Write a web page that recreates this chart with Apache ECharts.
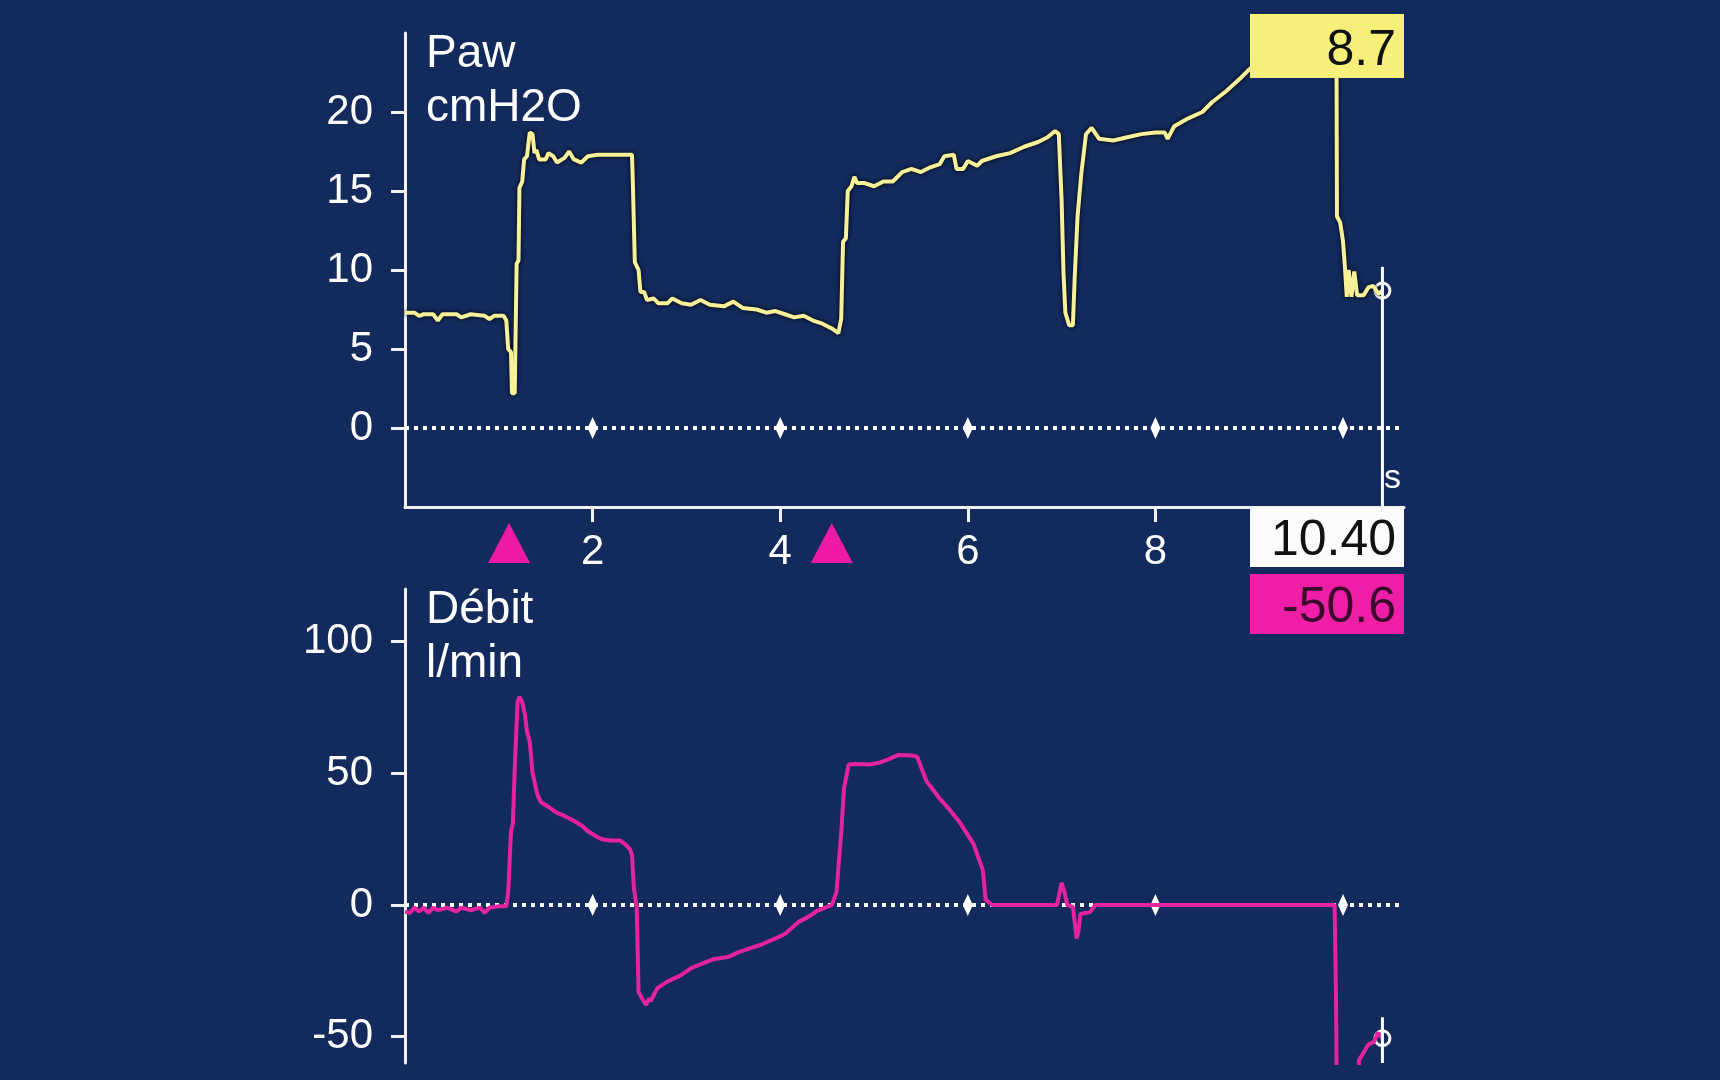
<!DOCTYPE html>
<html>
<head>
<meta charset="utf-8">
<title>Paw / Débit</title>
<script src="https://cdn.jsdelivr.net/npm/echarts@6/dist/echarts.min.js"></script>
<style>
    html, body { margin: 0; padding: 0; background: #122a5c; }
    #main { width: 1720px; height: 1080px; }
</style>
</head>
<body>
<div id="main"></div>
<script>
// Paw trace (s, cmH2O)
let pawT = [0.00, 0.10, 0.15, 0.20, 0.30, 0.35, 0.40, 0.55, 0.60, 0.70, 0.85, 0.90, 0.95, 1.05, 1.08, 1.10, 1.13, 1.14, 1.17,
    1.19, 1.21, 1.22, 1.25, 1.27, 1.30, 1.33, 1.36, 1.38, 1.40, 1.43, 1.50, 1.53, 1.58, 1.62, 1.70, 1.75, 1.80, 1.88, 1.95, 2.05,
    2.42, 2.43, 2.45, 2.49, 2.51, 2.55, 2.58, 2.65, 2.70, 2.80, 2.85, 2.95, 3.05, 3.15, 3.25, 3.40, 3.50, 3.60, 3.75, 3.85, 3.95,
    4.05, 4.15, 4.25, 4.35, 4.45, 4.55, 4.62, 4.65, 4.67, 4.70, 4.72, 4.76, 4.79, 4.82, 4.90, 5.00, 5.10, 5.20, 5.30, 5.40, 5.50,
    5.60, 5.70, 5.75, 5.85, 5.88, 5.95, 6.00, 6.10, 6.15, 6.30, 6.45, 6.60, 6.75, 6.85, 6.93, 6.97, 7.00, 7.02, 7.04, 7.08, 7.12,
    7.14, 7.17, 7.21, 7.26, 7.32, 7.40, 7.55, 7.70, 7.85, 8.00, 8.10, 8.13, 8.20, 8.35, 8.50, 8.60, 8.75, 8.90, 9.00, 9.20, 9.45,
    9.70, 9.93, 9.935, 9.97, 10.00, 10.02, 10.04, 10.06, 10.09, 10.12, 10.15, 10.22, 10.27, 10.32, 10.38, 10.42]
let pawV = [7.3, 7.3, 7.1, 7.2, 7.2, 6.8, 7.2, 7.2, 7.0, 7.2, 7.1, 6.9, 7.1, 7.1, 6.8, 5.0, 4.8, 2.2, 2.2,
    10.4, 10.6, 15.2, 15.6, 17.0, 17.2, 18.7, 18.6, 17.4, 17.6, 17.0, 17.0, 17.4, 17.2, 16.8, 17.1, 17.5, 17.0, 16.8, 17.2, 17.3,
    17.3, 15.3, 10.5, 10.0, 8.6, 8.6, 8.1, 8.2, 7.9, 7.9, 8.2, 7.9, 7.8, 8.1, 7.8, 7.7, 8.0, 7.6, 7.5, 7.3, 7.4,
    7.2, 7.0, 7.1, 6.8, 6.6, 6.3, 6.0, 6.9, 11.8, 12.0, 15.0, 15.3, 15.9, 15.5, 15.5, 15.3, 15.6, 15.6, 16.2, 16.4, 16.2,
    16.5, 16.7, 17.2, 17.3, 16.4, 16.4, 16.9, 16.6, 16.9, 17.2, 17.4, 17.8, 18.1, 18.4, 18.8, 18.6, 14.4, 9.8, 7.3, 6.5, 6.5,
    9.6, 13.4, 16.1, 18.6, 19.0, 18.3, 18.2, 18.4, 18.6, 18.7, 18.7, 18.3, 19.1, 19.6, 20.0, 20.6, 21.3, 22.1, 22.7, 23.6, 24.3,
    24.8, 24.6, 13.4, 13.0, 11.8, 10.2, 8.3, 10.0, 8.3, 9.9, 8.4, 8.4, 8.9, 9.0, 8.5, 8.7]

// Débit trace (s, l/min)
let flowT = [0.00, 0.05, 0.10, 0.15, 0.20, 0.25, 0.30, 0.35, 0.45, 0.55, 0.60, 0.70, 0.80, 0.85, 0.90, 1.00, 1.08,
    1.10, 1.11, 1.13, 1.15, 1.17, 1.20, 1.22, 1.25, 1.28, 1.30, 1.33, 1.36, 1.38, 1.41, 1.45, 1.54, 1.62, 1.69, 1.80, 1.89,
    1.95, 2.04, 2.10, 2.19, 2.29, 2.35, 2.40, 2.42, 2.44, 2.47, 2.49, 2.52, 2.57, 2.60, 2.62, 2.69, 2.80, 2.94, 3.05, 3.20,
    3.30, 3.45, 3.55, 3.70, 3.80, 3.95, 4.05, 4.20, 4.30, 4.40, 4.55, 4.60, 4.65, 4.68, 4.73, 4.80, 4.96, 5.05, 5.16, 5.26,
    5.40, 5.46, 5.56, 5.71, 5.81, 5.91, 6.06, 6.16, 6.19, 6.26, 6.95, 7.00, 7.03, 7.06, 7.12, 7.16, 7.18, 7.20, 7.25, 7.30,
    7.36, 9.91, 9.925, 9.935, 10.16, 10.17, 10.22, 10.27, 10.33, 10.37, 10.42]
let flowV = [-2.5, -3, -1, -2.5, -1, -3, -1, -2, -1, -2.5, -1, -2, -1, -3, -1, -0.5, -0.5,
    5, 12, 28, 31, 52, 77, 79, 77, 72, 66, 62, 50, 47, 42, 39, 37, 35, 34, 32, 30,
    28, 26, 25, 24.5, 24.5, 23, 21, 18.9, 6.3, -0.5, -33, -35, -38, -35.5, -36.5, -31.6, -29, -26.7, -24, -21.8,
    -20.5, -19.7, -18, -16.2, -15, -12.7, -11, -6.3, -4.5, -2.1, 0, 4.9, 27.3, 44.2, 53.4, 53.5, 53.4, 54, 55.4, 57,
    56.8, 56.3, 47, 40, 36, 31.6, 23.2, 13.3, 2.0, 0, 0, 8.4, 5, 0, -0.7, -12.7, -10, -3.5, -3, -2.8,
    0, 0, -34.5, -80, -80, -59, -56, -53, -52, -48.5, -50.6]

let tickTimes = [2, 4, 6, 8]          // labelled seconds
let zeroMarks = [2, 4, 6, 8, 10]      // small diamonds on the zero lines
let triggerTimes = [1.11, 4.55]       // pink triangles (patient triggers)
let pawTicks = [0, 5, 10, 15, 20]
let flowTicks = [-50, 0, 50, 100]

// cursor readouts
let cursorTime = 10.42
let cursorLabel = '10.40'
let cursorPaw = 8.7
let cursorFlow = -50.6

let tMax = 10.65
let font = 'Liberation Sans'
let bg = '#122a5c'
let yellow = '#f8f19a'
let pink = '#e6239f'

function pairs(ts, vs) {
    return ts.map(function (t, i) { return [t, vs[i]] })
}

let axisWhite = { color: '#f2f2f2', width: 3 }
let titleStyle = { color: '#fff', fontSize: 46, fontWeight: 'normal', fontFamily: font, lineHeight: 54 }

let chart = echarts.init(document.getElementById('main'))

chart.setOption({
    backgroundColor: bg,
    animation: false,
    title: [
        { text: 'Paw\ncmH2O', left: 426, top: 27, padding: 0, textStyle: titleStyle },
        { text: 'Débit\nl/min', left: 426, top: 583, padding: 0, textStyle: titleStyle }
    ],
    grid: [
        { left: 405, right: 316, top: 33, bottom: 573 },   // Paw
        { left: 405, right: 316, top: 589, bottom: 17 },   // Débit
        { left: 405, right: 316, top: 522, height: 42 }    // trigger band
    ],
    xAxis: [
        {
            gridIndex: 0, type: 'value', min: 0, max: tMax,
            axisLine: { onZero: false, lineStyle: axisWhite },
            axisTick: { customValues: tickTimes, length: 15, lineStyle: axisWhite },
            axisLabel: { customValues: tickTimes, color: '#fff', fontSize: 42, fontFamily: font, margin: 24 },
            splitLine: { show: false }
        },
        { gridIndex: 1, type: 'value', min: 0, max: tMax, show: false },
        { gridIndex: 2, type: 'value', min: 0, max: tMax, show: false }
    ],
    yAxis: [
        {
            gridIndex: 0, type: 'value', min: -5, max: 25,
            axisLine: { show: true, onZero: false, lineStyle: axisWhite },
            axisTick: { show: true, customValues: pawTicks, length: 14, lineStyle: axisWhite },
            axisLabel: { customValues: pawTicks, color: '#fff', fontSize: 42, fontFamily: font, margin: 32 },
            splitLine: { show: false }
        },
        {
            gridIndex: 1, type: 'value', min: -60, max: 120,
            axisLine: { show: true, onZero: false, lineStyle: axisWhite },
            axisTick: { show: true, customValues: flowTicks, length: 14, lineStyle: axisWhite },
            axisLabel: { customValues: flowTicks, color: '#fff', fontSize: 42, fontFamily: font, margin: 32 },
            splitLine: { show: false }
        },
        { gridIndex: 2, type: 'value', min: 0, max: 1, show: false }
    ],
    series: [
        // dotted zero lines
        {
            type: 'line', xAxisIndex: 0, yAxisIndex: 0, symbol: 'none', silent: true,
            data: [[0, 0], [tMax, 0]],
            lineStyle: { color: '#ffffff', width: 4, type: [4, 5] }
        },
        {
            type: 'line', xAxisIndex: 1, yAxisIndex: 1, symbol: 'none', silent: true,
            data: [[0, 0], [tMax, 0]],
            lineStyle: { color: '#ffffff', width: 4, type: [4, 5] }
        },
        {
            type: 'scatter', xAxisIndex: 0, yAxisIndex: 0, symbol: 'diamond', symbolSize: [10, 22],
            data: zeroMarks.map(function (t) { return [t, 0] }),
            itemStyle: { color: '#ffffff', opacity: 1 }
        },
        {
            type: 'scatter', xAxisIndex: 1, yAxisIndex: 1, symbol: 'diamond', symbolSize: [10, 22],
            data: zeroMarks.map(function (t) { return [t, 0] }),
            itemStyle: { color: '#ffffff', opacity: 1 }
        },
        // traces
        {
            name: 'Paw', type: 'line', xAxisIndex: 0, yAxisIndex: 0, showSymbol: false, clip: true,
            data: pairs(pawT, pawV),
            lineStyle: { color: yellow, width: 4, shadowColor: 'rgba(0,0,0,0.95)', shadowBlur: 4 }
        },
        {
            name: 'Débit', type: 'line', xAxisIndex: 1, yAxisIndex: 1, showSymbol: false, clip: true,
            data: pairs(flowT, flowV),
            lineStyle: { color: pink, width: 4 }
        },
        // cursor
        {
            type: 'line', xAxisIndex: 0, yAxisIndex: 0, symbol: 'none', clip: false,
            data: [[cursorTime, cursorPaw + 1.5], [cursorTime, -5]],
            lineStyle: { color: '#ffffff', width: 3 }
        },
        {
            type: 'line', xAxisIndex: 1, yAxisIndex: 1, symbol: 'none',
            data: [[cursorTime, cursorFlow + 8], [cursorTime, -60]],
            lineStyle: { color: '#ffffff', width: 3 }
        },
        {
            type: 'scatter', xAxisIndex: 0, yAxisIndex: 0, symbol: 'circle', symbolSize: 15,
            data: [[cursorTime, cursorPaw]],
            itemStyle: { color: bg, borderColor: '#ffffff', borderWidth: 3, opacity: 1 }
        },
        {
            type: 'scatter', xAxisIndex: 1, yAxisIndex: 1, symbol: 'circle', symbolSize: 15,
            data: [[cursorTime, cursorFlow]],
            itemStyle: { color: bg, borderColor: '#ffffff', borderWidth: 3, opacity: 1 }
        },
        // trigger triangles
        {
            type: 'scatter', xAxisIndex: 2, yAxisIndex: 2, symbol: 'triangle', symbolSize: [42, 40],
            data: triggerTimes.map(function (t) { return [t, 0.5] }),
            itemStyle: { color: '#f01aa8', opacity: 1 }
        }
    ],
    graphic: [
        { type: 'text', z: 100, style: { text: 's', x: 1384, y: 462, fill: '#fff', font: '34px ' + font } },
        { type: 'rect', z: 100, shape: { x: 1250, y: 14, width: 154, height: 64 }, style: { fill: '#f6f07a' } },
        {
            type: 'text', z: 101,
            style: { text: String(cursorPaw), x: 1396, y: 51, align: 'right', verticalAlign: 'middle', fill: '#111', font: '50px ' + font }
        },
        { type: 'rect', z: 100, shape: { x: 1250, y: 508, width: 154, height: 59 }, style: { fill: '#fbfbfb' } },
        {
            type: 'text', z: 101,
            style: { text: cursorLabel, x: 1396, y: 541, align: 'right', verticalAlign: 'middle', fill: '#111', font: '50px ' + font }
        },
        { type: 'rect', z: 100, shape: { x: 1250, y: 574, width: 154, height: 60 }, style: { fill: '#ee1ea6' } },
        {
            type: 'text', z: 101,
            style: { text: String(cursorFlow), x: 1396, y: 608, align: 'right', verticalAlign: 'middle', fill: '#3a0a2c', font: '50px ' + font }
        }
    ]
})
</script>
</body>
</html>
